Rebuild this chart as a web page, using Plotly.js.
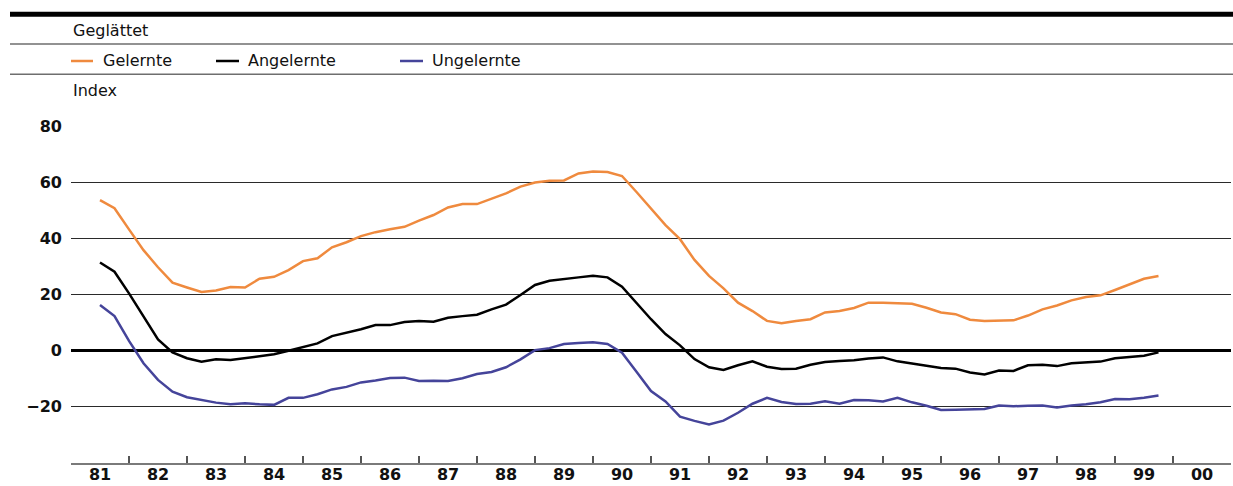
<!DOCTYPE html>
<html>
<head>
<meta charset="utf-8">
<script src="https://cdn.plot.ly/plotly-3.0.1.min.js"></script>
<style>
  html, body { margin: 0; padding: 0; background: #fff; }
  #chart { width: 1233px; height: 486px; }
</style>
</head>
<body>
<div id="chart"></div>
<script>
// Quarterly observations (decimal year positions)
const quarters = [
  1981.5, 1981.75, 1982.0, 1982.25, 1982.5, 1982.75, 1983.0, 1983.25, 1983.5, 1983.75,
  1984.0, 1984.25, 1984.5, 1984.75, 1985.0, 1985.25, 1985.5, 1985.75, 1986.0, 1986.25,
  1986.5, 1986.75, 1987.0, 1987.25, 1987.5, 1987.75, 1988.0, 1988.25, 1988.5, 1988.75,
  1989.0, 1989.25, 1989.5, 1989.75, 1990.0, 1990.25, 1990.5, 1990.75, 1991.0, 1991.25,
  1991.5, 1991.75, 1992.0, 1992.25, 1992.5, 1992.75, 1993.0, 1993.25, 1993.5, 1993.75,
  1994.0, 1994.25, 1994.5, 1994.75, 1995.0, 1995.25, 1995.5, 1995.75, 1996.0, 1996.25,
  1996.5, 1996.75, 1997.0, 1997.25, 1997.5, 1997.75, 1998.0, 1998.25, 1998.5, 1998.75,
  1999.0, 1999.25, 1999.5, 1999.75
];

const gelernte = [
  53.6, 50.7, 43.2, 35.8, 29.7, 24.2, 22.5, 20.9, 21.4, 22.7,
  22.5, 25.6, 26.3, 28.7, 31.9, 32.9, 36.8, 38.6, 40.8, 42.2,
  43.2, 44.1, 46.3, 48.3, 51.0, 52.2, 52.2, 54.2, 56.0, 58.4,
  59.9, 60.5, 60.6, 63.1, 63.8, 63.6, 62.2, 56.5, 50.7, 44.7,
  39.7, 32.3, 26.6, 22.2, 17.1, 14.1, 10.6, 9.8, 10.6, 11.2,
  13.6, 14.1, 15.2, 17.1, 17.1, 17.0, 16.7, 15.3, 13.6, 13.0,
  11.0, 10.6, 10.8, 10.8, 12.5, 14.7, 16.1, 17.9, 19.1, 19.7,
  21.6, 23.6, 25.6, 26.6
];

const angelernte = [
  31.4, 28.1, 20.4, 12.3, 4.0, -0.6, -2.7, -3.9, -3.1, -3.3,
  -2.7, -1.9, -1.3, 0.0, 1.2, 2.6, 5.2, 6.4, 7.6, 9.1,
  9.1, 10.2, 10.6, 10.3, 11.7, 12.3, 12.8, 14.7, 16.4, 19.8,
  23.4, 24.9, 25.4, 26.1, 26.7, 26.1, 22.8, 16.8, 11.2, 5.9,
  1.9, -3.0, -5.9, -6.9, -5.2, -3.8, -5.7, -6.5, -6.4, -5.0,
  -4.0, -3.7, -3.4, -2.8, -2.4, -3.8, -4.6, -5.5, -6.2, -6.4,
  -7.8, -8.5, -7.1, -7.2, -5.2, -5.0, -5.5, -4.5, -4.2, -3.9,
  -2.7, -2.3, -1.8, -0.6
];

const ungelernte = [
  16.3, 12.3, 3.5, -4.5, -10.4, -14.6, -16.6, -17.6, -18.5, -19.1,
  -18.7, -19.1, -19.3, -16.8, -16.8, -15.5, -13.8, -12.9, -11.3, -10.6,
  -9.7, -9.6, -10.8, -10.7, -10.8, -9.8, -8.3, -7.6, -5.9, -3.1,
  0.2, 0.9, 2.4, 2.7, 3.0, 2.4, -0.7, -7.5, -14.4, -18.1,
  -23.5, -25.0, -26.3, -24.9, -22.1, -18.9, -16.8, -18.3, -19.0, -18.9,
  -18.0, -18.9, -17.6, -17.7, -18.1, -16.8, -18.4, -19.6, -21.1, -21.0,
  -20.9, -20.8, -19.5, -19.8, -19.6, -19.5, -20.2, -19.5, -19.1, -18.4,
  -17.2, -17.3, -16.8, -16.0
];

const yearCenters = [1981.5, 1982.5, 1983.5, 1984.5, 1985.5, 1986.5, 1987.5, 1988.5, 1989.5, 1990.5,
  1991.5, 1992.5, 1993.5, 1994.5, 1995.5, 1996.5, 1997.5, 1998.5, 1999.5, 2000.5];
const yearLabels = ["81","82","83","84","85","86","87","88","89","90",
  "91","92","93","94","95","96","97","98","99","00"];
const yearBoundaries = [1982, 1983, 1984, 1985, 1986, 1987, 1988, 1989, 1990, 1991,
  1992, 1993, 1994, 1995, 1996, 1997, 1998, 1999, 2000];
const yTicks = [-20, 0, 20, 40, 60, 80];

const seriesNames = ["Gelernte", "Angelernte", "Ungelernte"];
const seriesColors = ["#ef8a3e", "#000000", "#45449a"];

// page-pixel helpers for header decorations
const W = 1233, H = 486, ML = 71, MR = 2, MT = 126, MB = 23;
const PW = W - ML - MR, PH = H - MT - MB;
const px = v => (v - ML) / PW;
const py = v => (H - MB - v) / PH;

const FONT = "DejaVu Sans";

const traces = [gelernte, angelernte, ungelernte].map((ys, k) => ({
  x: quarters, y: ys, type: "scatter", mode: "lines",
  name: seriesNames[k], line: { color: seriesColors[k], width: 2.5 },
  showlegend: false, hoverinfo: "skip"
}));

const shapes = [
  { type: "line", xref: "paper", yref: "paper", x0: px(10), x1: px(1233), y0: py(14.3), y1: py(14.3), line: { color: "#000", width: 5 } },
  { type: "line", xref: "paper", yref: "paper", x0: px(10), x1: px(1233), y0: py(44), y1: py(44), line: { color: "#6e6e6e", width: 1.5 } },
  { type: "line", xref: "paper", yref: "paper", x0: px(10), x1: px(1233), y0: py(74.2), y1: py(74.2), line: { color: "#6e6e6e", width: 1.5 } }
];
const swatchX = [[71, 93], [216, 239], [400, 423]];
swatchX.forEach((s, k) => shapes.push({
  type: "line", xref: "paper", yref: "paper", x0: px(s[0]), x1: px(s[1]),
  y0: py(61), y1: py(61), line: { color: seriesColors[k], width: 2.5 }
}));

const textX = [101, 246, 430];
const annotations = [
  { text: "Geglättet", xref: "paper", yref: "paper", x: px(71), y: py(30.5), xanchor: "left", yanchor: "middle", showarrow: false, font: { family: FONT, size: 16, color: "#111" } },
  { text: "Index", xref: "paper", yref: "paper", x: px(71), y: py(90.5), xanchor: "left", yanchor: "middle", showarrow: false, font: { family: FONT, size: 16, color: "#111" } }
];
textX.forEach((tx, k) => annotations.push({
  text: seriesNames[k], xref: "paper", yref: "paper", x: px(tx), y: py(60.5),
  xanchor: "left", yanchor: "middle", showarrow: false, font: { family: FONT, size: 16, color: "#111" }
}));

const layout = {
  width: W, height: H,
  margin: { l: ML, r: MR, t: MT, b: MB, pad: 0 },
  paper_bgcolor: "#fff", plot_bgcolor: "#fff",
  showlegend: false,
  hovermode: false,
  font: { family: FONT, color: "#111" },
  xaxis: {
    range: [1981, 2001], tickmode: "array", tickvals: yearCenters, ticktext: yearLabels,
    ticks: "", showgrid: false, zeroline: false,
    showline: true, linecolor: "#7a7a7a", linewidth: 2,
    tickfont: { family: FONT, size: 16, color: "#111", weight: "bold" },
    ticklabelstandoff: -4,
    minor: { tickmode: "array", tickvals: yearBoundaries, ticks: "inside", ticklen: 7, tickwidth: 1.5, tickcolor: "#555", showgrid: false },
    fixedrange: true
  },
  yaxis: {
    range: [-40, 80], tickmode: "array", tickvals: yTicks,
    ticks: "", showgrid: true, gridcolor: "#2a2a2a", gridwidth: 1,
    zeroline: true, zerolinecolor: "#000", zerolinewidth: 2.5,
    showline: false,
    tickfont: { family: FONT, size: 16, color: "#111", weight: "bold" },
    ticklabelstandoff: 8,
    fixedrange: true
  },
  shapes: shapes,
  annotations: annotations
};

Plotly.newPlot("chart", traces, layout, { displayModeBar: false, staticPlot: true });
</script>
</body>
</html>
